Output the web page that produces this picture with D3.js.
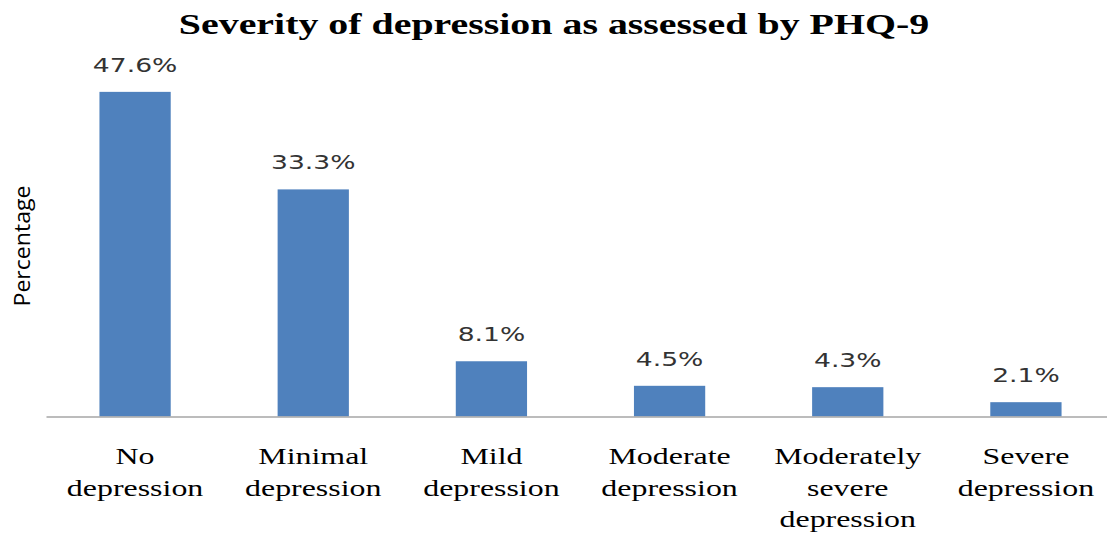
<!DOCTYPE html>
<html><head><meta charset="utf-8">
<script src="https://cdn.jsdelivr.net/npm/d3@7"></script>
<style>html,body{margin:0;padding:0;background:#fff;}</style>
</head><body>
<svg id="c" width="1107" height="533"></svg>
<script>
const categories = [
  ["No", "depression"],
  ["Minimal", "depression"],
  ["Mild", "depression"],
  ["Moderate", "depression"],
  ["Moderately", "severe", "depression"],
  ["Severe", "depression"]
];
const values = [47.6, 33.3, 8.1, 4.5, 4.3, 2.1];
const valueLabels = ["47.6%", "33.3%", "8.1%", "4.5%", "4.3%", "2.1%"];
const titleText = "Severity of depression as assessed by PHQ-9";
const yLabel = "Percentage";

const SX = 1.33;
const svg = d3.select("#c");
const keys = categories.map((c, i) => i);
const x = d3.scaleBand().domain(keys).range([46, 1115]).paddingInner(0.6).paddingOuter(0.3);
const y = d3.scaleLinear().domain([0, 50]).range([416.5, 75.5]);

// bars
svg.selectAll("rect.bar").data(values).join("rect")
  .attr("class", "bar")
  .attr("x", (d, i) => x(i))
  .attr("width", x.bandwidth())
  .attr("y", d => y(d))
  .attr("height", d => y(0) - y(d))
  .attr("fill", "#4F81BD");

// axis line
const xAxis = d3.axisBottom(x).tickSize(0).tickFormat("");
const ax = svg.append("g").attr("transform", `translate(0,${y(0)})`).call(xAxis);
ax.select(".domain").attr("stroke", "#a6a6a6").attr("stroke-width", 1.5);

function stretched(g, cx, cy, txt, attrs) {
  const t = g.append("text")
    .attr("transform", `translate(${cx},${cy}) scale(${SX},1)`)
    .attr("text-anchor", "middle")
    .text(txt);
  for (const k in attrs) t.style(k, attrs[k]);
  return t;
}

// value labels
values.forEach((v, i) => {
  stretched(svg, x(i) + x.bandwidth() / 2, y(v) - 20, valueLabels[i],
    {"font-family": "DejaVu Sans", "font-size": "20px", "fill": "#333333"});
});

// category labels
categories.forEach((lines, i) => {
  lines.forEach((ln, j) => {
    stretched(svg, x(i) + x.bandwidth() / 2, 464 + j * 31.5, ln,
      {"font-family": "Liberation Serif", "font-size": "24px", "fill": "#000"});
  });
});

// title
stretched(svg, 554, 34, titleText,
  {"font-family": "Liberation Serif", "font-size": "30px", "font-weight": "bold", "fill": "#000"});

// y label
svg.append("text")
  .attr("transform", "translate(30,246) rotate(-90)")
  .attr("text-anchor", "middle")
  .attr("textLength", 121)
  .attr("lengthAdjust", "spacingAndGlyphs")
  .style("font-family", "Open Sans")
  .style("font-size", "21px")
  .style("fill", "#000")
  .text(yLabel);
</script>
</body></html>
